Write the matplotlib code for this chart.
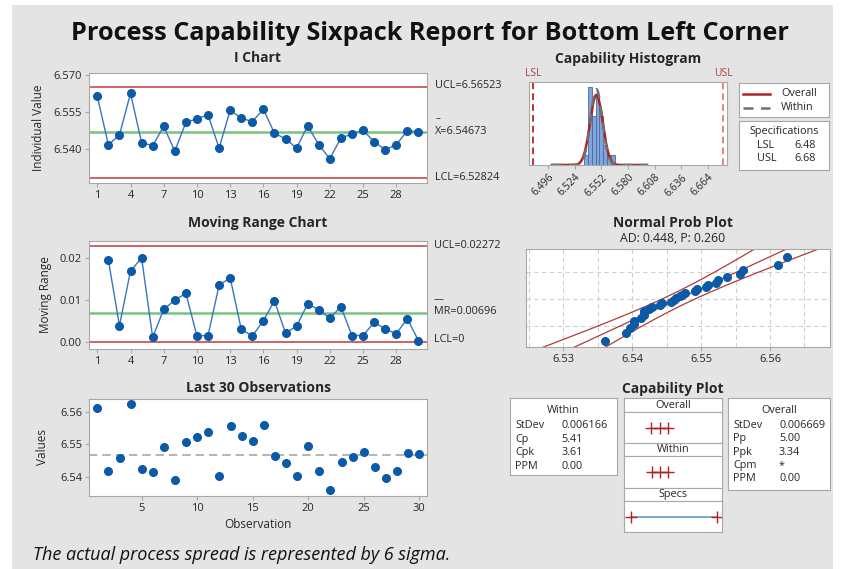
import numpy as np
import matplotlib
matplotlib.use("Agg")
import matplotlib.pyplot as plt
from matplotlib.patches import Rectangle
from statistics import NormalDist

# data
obs = list(range(1, 31))
values = [6.5612, 6.5417, 6.5456, 6.5625, 6.5425, 6.5413, 6.5491, 6.5391, 6.5507, 6.5522,
          6.5538, 6.5403, 6.5556, 6.5525, 6.5510, 6.5561, 6.5463, 6.5441, 6.5403, 6.5494,
          6.5417, 6.5360, 6.5444, 6.5460, 6.5476, 6.5429, 6.5397, 6.5417, 6.5473, 6.5469]
i_ucl, i_center, i_lcl = 6.56523, 6.54673, 6.52824
mr_ucl, mr_center, mr_lcl = 0.02272, 0.00696, 0.0
lsl, usl = 6.48, 6.68
sd_within, sd_overall = 0.006166, 0.006669
hist_edges = [6.534, 6.538, 6.542, 6.546, 6.550, 6.554, 6.558, 6.562, 6.566]
hist_ticks = [6.496, 6.524, 6.552, 6.580, 6.608, 6.636, 6.664]
within_stats = [("StDev", "0.006166"), ("Cp", "5.41"), ("Cpk", "3.61"), ("PPM", "0.00")]
overall_stats = [("StDev", "0.006669"), ("Pp", "5.00"), ("Ppk", "3.34"), ("Cpm", "*"), ("PPM", "0.00")]

plt.rcParams['font.family'] = ['Open Sans', 'DejaVu Sans']
W, H = 844, 569
fig = plt.figure(figsize=(W / 100, H / 100), dpi=100)
fig.patches.append(Rectangle((12 / W, 0), (833 - 12) / W, 1 - 5 / H, transform=fig.transFigure,
                             facecolor='#e4e4e4', edgecolor='none', zorder=-10))

SPINE = '#a8a8a8'
TXT = '#262626'
RED = '#c9474a'
GREEN = '#79c27c'
BLUE = '#0b5aa8'
LINEBLUE = '#3a74bd'


def px_axes(x0, y0, x1, y1):
    ax = fig.add_axes([x0 / W, 1 - y1 / H, (x1 - x0) / W, (y1 - y0) / H])
    for s in ax.spines.values():
        s.set_color(SPINE)
    ax.tick_params(colors=SPINE, labelcolor=TXT, labelsize=8, length=3, width=0.8, pad=2)
    return ax


def ft(x, y, s, **kw):
    kw.setdefault('color', TXT)
    kw.setdefault('va', 'center')
    kw.setdefault('fontsize', 7.8)
    return fig.text(x / W, 1 - y / H, s, **kw)


def box_axes(x0, y0, x1, y1):
    ax = px_axes(x0, y0, x1, y1)
    ax.set_xticks([])
    ax.set_yticks([])
    ax.set_xlim(0, 1)
    ax.set_ylim(0, 1)
    return ax


ft(430, 33, "Process Capability Sixpack Report for Bottom Left Corner", ha='center',
   fontsize=18.2, fontweight='bold', color='#111111')

# I chart
ax = px_axes(89, 73, 427, 183)
ax.axhline(i_ucl, color=RED, lw=1.2)
ax.axhline(i_lcl, color=RED, lw=1.2)
ax.axhline(i_center, color=GREEN, lw=1.8)
ax.plot(obs, values, color=LINEBLUE, lw=1, marker='o', ms=5.5, mfc=BLUE, mec=BLUE)
ax.set_xlim(0.25, 30.78)
ax.set_ylim(6.5262, 6.5707)
ax.set_xticks(range(1, 29, 3))
ax.set_yticks([6.540, 6.555, 6.570])
ax.set_yticklabels(["6.540", "6.555", "6.570"])
ft(258, 58, "I Chart", ha='center', fontsize=10, fontweight='bold')
ft(38, 128, "Individual Value", ha='center', rotation=90, fontsize=8.5)
ft(435, 86, "UCL=6.56523")
ft(436, 119, "–", fontsize=7)
ft(435, 131, "X=6.54673")
ft(435, 177, "LCL=6.52824")

# Moving range chart
mr = np.abs(np.diff(values))
ax = px_axes(89, 241, 427, 349)
ax.axhline(mr_ucl, color=RED, lw=1.2)
ax.axhline(mr_lcl, color=RED, lw=1.2)
ax.axhline(mr_center, color=GREEN, lw=1.8)
ax.plot(obs[1:], mr, color=LINEBLUE, lw=1, marker='o', ms=5.5, mfc=BLUE, mec=BLUE)
ax.set_xlim(0.25, 30.78)
ax.set_ylim(-0.0016, 0.024)
ax.set_xticks(range(1, 29, 3))
ax.set_yticks([0, 0.01, 0.02])
ax.set_yticklabels(["0.00", "0.01", "0.02"])
ft(258, 223, "Moving Range Chart", ha='center', fontsize=10, fontweight='bold')
ft(45, 295, "Moving Range", ha='center', rotation=90, fontsize=8.5)
ft(434, 246, "UCL=0.02272")
ft(434, 300, "—", fontsize=7)
ft(434, 311, "MR=0.00696")
ft(434, 340, "LCL=0")

# Last 30 observations
ax = px_axes(89, 399, 427, 496)
ax.axhline(i_center, color='#a8a8a8', lw=1.2, ls=(0, (5, 3)))
ax.plot(obs, values, 'o', ms=5.5, color=BLUE)
ax.set_xlim(0.25, 30.7)
ax.set_ylim(6.534, 6.564)
ax.set_xticks([5, 10, 15, 20, 25, 30])
ax.set_yticks([6.54, 6.55, 6.56])
ax.set_yticklabels(["6.54", "6.55", "6.56"])
ft(258, 388, "Last 30 Observations", ha='center', fontsize=10, fontweight='bold')
ft(43, 447, "Values", ha='center', rotation=90, fontsize=8.5)
ft(258, 524, "Observation", ha='center', fontsize=8.5)
ft(33, 555, "The actual process spread is represented by 6 sigma.", fontsize=13,
   style='italic', color='#111111')

# Capability histogram
ax = px_axes(529, 82, 727, 165)
ax.hist(values, bins=hist_edges, color='#7ea6dc', edgecolor='#4a6a9c', lw=0.6)
xs = np.linspace(6.50, 6.60, 400)
bw = hist_edges[1] - hist_edges[0]
n = len(values)
pdf_o = n * bw * np.exp(-0.5 * ((xs - i_center) / sd_overall) ** 2) / (sd_overall * np.sqrt(2 * np.pi))
pdf_w = n * bw * np.exp(-0.5 * ((xs - i_center) / sd_within) ** 2) / (sd_within * np.sqrt(2 * np.pi))
ax.plot(xs, pdf_o, color='#b22222', lw=1.8)
ax.plot(xs, pdf_w, color='#707070', lw=1.8, ls=(0, (4, 3)))
ax.axvline(lsl, color='#b01010', lw=1.2, ls=(0, (4, 2.5)))
ax.axvline(usl, color='#e07070', lw=1.2, ls=(0, (4, 2.5)))
ax.set_xlim(6.4758, 6.6842)
ax.set_ylim(0, 8.5)
ax.set_yticks([])
ax.set_xticks(hist_ticks)
ax.set_xticklabels([f"{t:.3f}" for t in hist_ticks], rotation=45, ha='right',
                   rotation_mode='anchor', fontsize=7.5)
ft(628, 59, "Capability Histogram", ha='center', fontsize=10, fontweight='bold')
ft(533, 74, "LSL", ha='center', fontsize=7.5, color='#a94442')
ft(723, 74, "USL", ha='center', fontsize=7.5, color='#a94442')

lg = box_axes(739, 83, 829, 117)
lg.plot([0.04, 0.34], [0.68, 0.68], color='#b22222', lw=1.8)
lg.plot([0.04, 0.34], [0.27, 0.27], color='#707070', lw=1.8, ls=(0, (4, 3)))
lg.text(0.47, 0.68, "Overall", va='center', fontsize=7.8, color=TXT)
lg.text(0.47, 0.27, "Within", va='center', fontsize=7.8, color=TXT)

sp = box_axes(739, 121, 829, 170)
sp.text(0.5, 0.78, "Specifications", ha='center', va='center', fontsize=7.8, color=TXT)
sp.text(0.2, 0.5, "LSL", va='center', fontsize=7.8, color=TXT)
sp.text(0.62, 0.5, f"{lsl:.2f}", va='center', fontsize=7.8, color=TXT)
sp.text(0.2, 0.24, "USL", va='center', fontsize=7.8, color=TXT)
sp.text(0.62, 0.24, f"{usl:.2f}", va='center', fontsize=7.8, color=TXT)

# Normal probability plot
nd = NormalDist()
srt = np.sort(values)
z = np.array([nd.inv_cdf((k - 0.3) / (n + 0.4)) for k in range(1, n + 1)])
ax = px_axes(526, 249, 830, 347)
for gx in np.arange(6.525, 6.5701, 0.005):
    ax.axvline(gx, color='#cfcfcf', lw=0.8, ls=(0, (4, 3)), zorder=0)
for gp in [0.10, 0.50, 0.90]:
    ax.axhline(nd.inv_cdf(gp), color='#cfcfcf', lw=0.8, ls=(0, (4, 3)), zorder=0)
zz = np.linspace(-3, 3, 200)
fit = i_center + sd_overall * zz
half = 1.96 * sd_overall * np.sqrt(1 / n + zz ** 2 / (2 * n))
ax.plot(fit, zz, color='#b03a3a', lw=0.9)
ax.plot(fit - half, zz, color='#b03a3a', lw=0.9)
ax.plot(fit + half, zz, color='#b03a3a', lw=0.9)
ax.plot(srt, z, 'o', ms=5.5, color=BLUE, zorder=3)
ax.set_xlim(6.5246, 6.5687)
ax.set_ylim(-2.26, 2.35)
ax.set_yticks([])
ax.set_xticks([6.53, 6.54, 6.55, 6.56])
ax.set_xticklabels(["6.53", "6.54", "6.55", "6.56"])
ft(673, 223, "Normal Prob Plot", ha='center', fontsize=10, fontweight='bold')
ft(673, 239, "AD: 0.448, P: 0.260", ha='center', fontsize=8.8)

# Capability plot
ft(673, 389, "Capability Plot", ha='center', fontsize=10, fontweight='bold')
wb = box_axes(510, 398, 617, 475)
wb.text(0.5, 0.84, "Within", ha='center', va='center', fontsize=7.8, color=TXT)
for r, (k, v) in enumerate(within_stats):
    yy = 0.64 - r * 0.175
    wb.text(0.05, yy, k, va='center', fontsize=7.8, color=TXT)
    wb.text(0.48, yy, v, va='center', fontsize=7.8, color=TXT)

ob = box_axes(728, 398, 830, 490)
ob.text(0.5, 0.86, "Overall", ha='center', va='center', fontsize=7.8, color=TXT)
for r, (k, v) in enumerate(overall_stats):
    yy = 0.7 - r * 0.145
    ob.text(0.05, yy, k, va='center', fontsize=7.8, color=TXT)
    ob.text(0.5, yy, v, va='center', fontsize=7.8, color=TXT)

mid_x0, mid_x1 = 624, 722
x_lo, x_hi = 6.4636, 6.6917
headers = [("Overall", 398, 412), ("Within", 443, 456), ("Specs", 488, 501)]
contents = [(412, 443, sd_overall), (456, 488, sd_within), (501, 532, None)]
for (name, y0, y1), (c0, c1, sd) in zip(headers, contents):
    hb = box_axes(mid_x0, y0, mid_x1, y1)
    hb.text(0.5, 0.5, name, ha='center', va='center', fontsize=7.8, color=TXT)
    cb = box_axes(mid_x0, c0, mid_x1, c1)
    cb.set_xlim(x_lo, x_hi)
    if sd is None:
        cb.plot([lsl, usl], [0.5, 0.5], color='#5b9bd5', lw=1.2)
        cb.plot([lsl, usl], [0.5, 0.5], '+', color='#b22222', ms=9, mew=1)
    else:
        pts = [i_center - 3 * sd, i_center, i_center + 3 * sd]
        cb.plot(pts, [0.5] * 3, '+', color='#b22222', ms=9, mew=1)
        cb.plot([pts[0], pts[-1]], [0.5, 0.5], color='#b22222', lw=1)

fig.savefig("out.png", dpi=100)
